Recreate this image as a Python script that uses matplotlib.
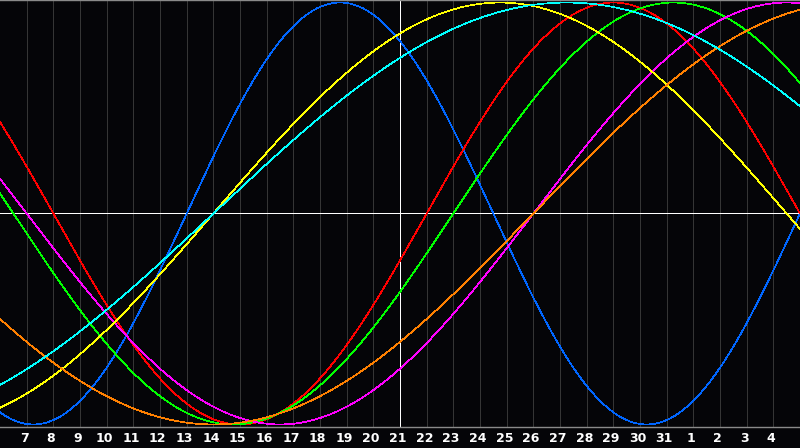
import numpy as np
import matplotlib
matplotlib.use("Agg")
import matplotlib.pyplot as plt

# %%
# day labels along the bottom (one per gridline), "today" is 21
day_labels = [7, 8, 9, 10, 11, 12, 13, 14, 15, 16, 17, 18, 19, 20, 21,
              22, 23, 24, 25, 26, 27, 28, 29, 30, 31, 1, 2, 3, 4]
today_index = 15
n_days = 30

# cycles: period in days and the day index where each curve crosses zero going up
cycle_names = ["physical", "emotional", "intellectual", "intuitive",
               "aesthetic", "awareness", "spiritual"]
periods = [23, 28, 33, 38, 43, 48, 53]
zero_up = [7.0, 16.0, 17.0, 20.0, 8.0, 20.0, 8.0]
colors = ["#0066ff", "#ff0000", "#00ff00", "#ff00ff",
          "#ffff00", "#ff8000", "#00ffff"]

bg = "#050508"

# %%
fig = plt.figure(figsize=(8, 4.48), dpi=100, facecolor=bg)
ax = fig.add_axes([0, 21 / 448, 1, 427 / 448])
ax.set_facecolor(bg)
ax.set_xlim(0, n_days)
ax.set_ylim(-1.012, 1.012)

# day gridlines
for i in range(1, n_days):
    ax.axvline(i, color="#353535", lw=0.7, zorder=1, antialiased=False)

t = np.linspace(0, n_days, 1600)
for name, p, z, c in zip(cycle_names, periods, zero_up, colors):
    ax.plot(t, np.sin(2 * np.pi * (t - z) / p), color=c, lw=0.5,
            zorder=3, antialiased=False)

# zero line and today marker
ax.axhline(0, color="white", lw=0.6, zorder=2, antialiased=False)
ax.axvline(today_index, color="white", lw=0.6, zorder=2, antialiased=False)

for s in ["left", "right"]:
    ax.spines[s].set_visible(False)
for s in ["top", "bottom"]:
    ax.spines[s].set_color("#8a8a8a")
    ax.spines[s].set_linewidth(1.0)

ax.set_xticks([])
ax.set_yticks([])

for i, d in enumerate(day_labels, start=1):
    fig.text(i / n_days - 0.003, 9.5 / 448, str(d), color="white",
             fontsize=9, fontweight="bold", ha="center", va="center",
             family="DejaVu Sans")

fig.savefig("out.png", dpi=100, facecolor=bg)
